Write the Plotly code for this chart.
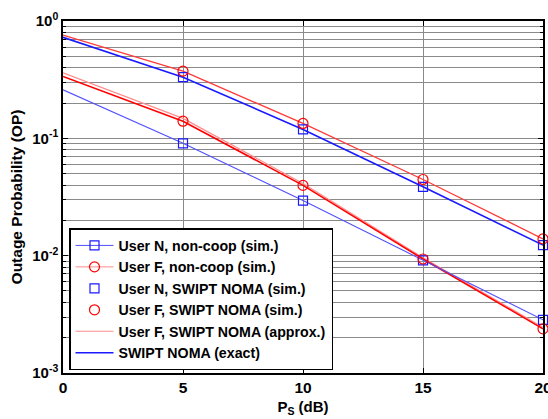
import plotly.graph_objects as go

# ---------------- data ----------------
ps_db = [0, 5, 10, 15, 20]            # P_S (dB)
ps_sim = [5, 10, 15, 20]              # simulation marker positions

# upper pair (non-cooperative)
noncoop_N = [0.726, 0.332, 0.119, 0.0386, 0.0123]
noncoop_F = [0.759, 0.374, 0.134, 0.0446, 0.0139]
# lower group (SWIPT NOMA)
swipt_N_exact = [0.259, 0.0906, 0.0295, 0.00912, 0.00284]
swipt_F_exact = [0.337, 0.140, 0.0397, 0.00937, 0.00238]
swipt_F_approx = [0.361, 0.148, 0.0412, 0.00960, 0.00245]

noncoop_N_sim = [0.332, 0.119, 0.0386, 0.0123]
noncoop_F_sim = [0.374, 0.134, 0.0446, 0.0139]
swipt_N_sim = [0.0906, 0.0295, 0.00912, 0.00284]
swipt_F_sim = [0.140, 0.0397, 0.00937, 0.00238]

legend_names = [
    "User N, non-coop (sim.)",
    "User F, non-coop (sim.)",
    "User N, SWIPT NOMA (sim.)",
    "User F, SWIPT NOMA (sim.)",
    "User F, SWIPT NOMA (approx.)",
    "SWIPT NOMA (exact)",
]

y_tickvals = [1e-3, 1e-2, 1e-1, 1e0]
y_ticktext = ["10<sup>-3</sup>", "10<sup>-2</sup>", "10<sup>-1</sup>", "10<sup>0</sup>"]
x_tickvals = [0, 5, 10, 15, 20]

BLUE = "#1a1aff"
BLUE_L = "#5050ff"
RED = "#ff0000"
RED_M = "#ff3a3a"
RED_L = "#ff8c8c"
GRID = "#8a8a8a"

fig = go.Figure()

# ---------- curves ----------
fig.add_trace(go.Scatter(x=ps_db, y=swipt_F_approx, mode="lines",
                         line=dict(color=RED_L, width=1.2), showlegend=False))
fig.add_trace(go.Scatter(x=ps_db, y=swipt_F_exact, mode="lines",
                         line=dict(color=RED, width=1.6), showlegend=False))
fig.add_trace(go.Scatter(x=ps_db, y=swipt_N_exact, mode="lines",
                         line=dict(color=BLUE_L, width=1.1), showlegend=False))
fig.add_trace(go.Scatter(x=ps_db, y=noncoop_F, mode="lines",
                         line=dict(color=RED_M, width=1.3), showlegend=False))
fig.add_trace(go.Scatter(x=ps_db, y=noncoop_N, mode="lines",
                         line=dict(color=BLUE, width=1.6), showlegend=False))

sq = dict(symbol="square-open", size=9, color=BLUE, line=dict(width=1.2, color=BLUE))
ci = dict(symbol="circle-open", size=10, color=RED, line=dict(width=1.2, color=RED))
for ys, m in [(noncoop_N_sim, sq), (noncoop_F_sim, ci), (swipt_N_sim, sq), (swipt_F_sim, ci)]:
    fig.add_trace(go.Scatter(x=ps_sim, y=ys, mode="markers", marker=m,
                             showlegend=False, cliponaxis=False))

# ---------- legend entries ----------
leg_styles = [
    dict(mode="lines+markers", line=dict(color=BLUE_L, width=1), marker=sq),
    dict(mode="lines+markers", line=dict(color=RED_L, width=1), marker=ci),
    dict(mode="markers", marker=sq),
    dict(mode="markers", marker=ci),
    dict(mode="lines", line=dict(color=RED_L, width=1)),
    dict(mode="lines", line=dict(color=BLUE, width=1.5)),
]
for name, st in zip(legend_names, leg_styles):
    fig.add_trace(go.Scatter(x=[None], y=[None], name=name, **st))

minor_vals = [m * 10.0 ** e for e in (-3, -2, -1) for m in range(2, 10)]

FONT = "Liberation Sans, Arial, sans-serif"

fig.update_layout(
    width=548, height=419,
    margin=dict(l=63, r=5, t=21, b=46, autoexpand=False),
    paper_bgcolor="white", plot_bgcolor="white",
    font=dict(family=FONT, size=14, color="black", weight="bold"),
    showlegend=True,
    legend=dict(
        x=0.0125, y=0.008, xanchor="left", yanchor="bottom",
        bgcolor="white", bordercolor="black", borderwidth=1.5,
        font=dict(family=FONT, size=14.2, color="black", weight="bold"),
        traceorder="normal", itemwidth=38,
    ),
    xaxis=dict(
        range=[0, 20], tickvals=x_tickvals, ticktext=[str(v) for v in x_tickvals],
        ticks="inside", ticklen=5, tickcolor="black",
        showline=True, linecolor="black", linewidth=1.5, mirror="ticks",
        showgrid=True, gridcolor=GRID, gridwidth=1,
        zeroline=False, ticklabeloverflow="allow", automargin=False,
        tickfont=dict(family=FONT, size=15.5, weight="bold"),
        title=dict(text="P<sub>S</sub> (dB)", standoff=6,
                   font=dict(family=FONT, size=15, weight="bold")),
    ),
    yaxis=dict(
        type="log", range=[-3, 0],
        tickvals=y_tickvals, ticktext=y_ticktext,
        ticks="inside", ticklen=5, tickcolor="black",
        showline=True, linecolor="black", linewidth=1.5, mirror="ticks",
        showgrid=True, gridcolor=GRID, gridwidth=1,
        zeroline=False, ticklabeloverflow="allow", automargin=False,
        minor=dict(tickvals=minor_vals, ticks="inside", ticklen=3, tickcolor="black",
                   showgrid=True, gridcolor=GRID, gridwidth=1),
        tickfont=dict(family=FONT, size=15, weight="bold"),
        title=dict(text="Outage Probability (OP)", standoff=6,
                   font=dict(family=FONT, size=15.5, weight="bold")),
    ),
)

fig.write_html("out.html")
